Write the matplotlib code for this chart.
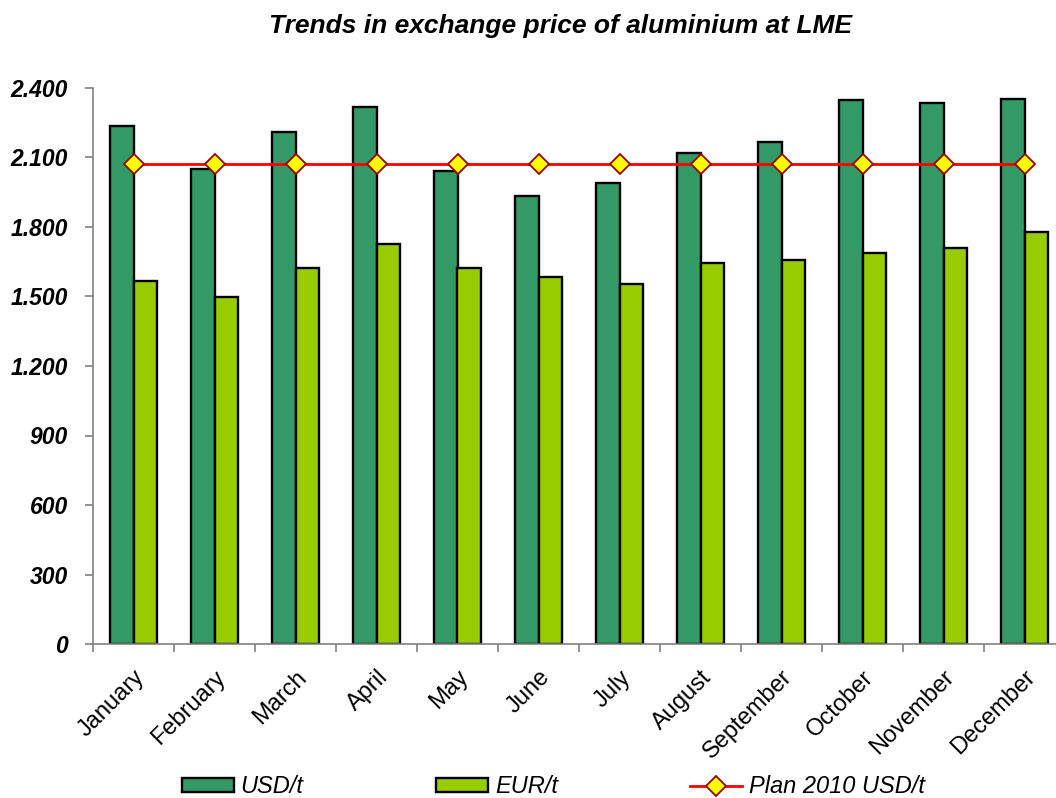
import numpy as np
from matplotlib import pyplot as plt

plt.rcParams['font.family'] = ['Liberation Sans', 'DejaVu Sans']

months = ['January', 'February', 'March', 'April', 'May', 'June', 'July',
          'August', 'September', 'October', 'November', 'December']
usd = [2237, 2051, 2208, 2319, 2041, 1933, 1989, 2120, 2165, 2348, 2335, 2352]
eur = [1566, 1496, 1625, 1728, 1625, 1584, 1555, 1643, 1656, 1689, 1708, 1777]
plan = [2071] * 12
yticks = [0, 300, 600, 900, 1200, 1500, 1800, 2100, 2400]
ytick_labels = ['0', '300', '600', '900', '1.200', '1.500', '1.800', '2.100', '2.400']

fig = plt.figure(figsize=(10.56, 7.98), dpi=100)
ax = fig.add_axes([93 / 1056, 154 / 798, 972 / 1056, 556 / 798])

x = np.arange(len(months))
w = 0.29
b1 = ax.bar(x - w / 2, usd, w, color='#339966', edgecolor='black', linewidth=1.7,
            label='USD/t', zorder=2)
b2 = ax.bar(x + w / 2, eur, w, color='#99CC00', edgecolor='black', linewidth=1.7,
            label='EUR/t', zorder=2)
l1, = ax.plot(x, plan, color='#FF0000', linewidth=2, marker='D', markersize=10,
              markerfacecolor='#FFFF00', markeredgecolor='#990000', markeredgewidth=1.3,
              label='Plan 2010 USD/t', zorder=3)

ax.set_xlim(-0.5, 11.5)
ax.set_ylim(0, 2400)
for s in ['top', 'right']:
    ax.spines[s].set_visible(False)
for s in ['left', 'bottom']:
    ax.spines[s].set_color('#808080')
    ax.spines[s].set_linewidth(1.2)

ax.set_yticks(yticks)
ax.set_yticklabels(ytick_labels, fontsize=16.5, fontweight='bold', fontstyle='italic')
ax.tick_params(axis='y', length=6, width=1.2, color='#808080', pad=12)

ax.set_xticks(x)
ax.set_xticklabels(months, fontsize=17, rotation=45, ha='right',
                   rotation_mode='anchor')
ax.tick_params(axis='x', which='major', length=0, pad=16)
ax.set_xticks(np.arange(-0.5, 12, 1), minor=True)
ax.tick_params(axis='x', which='minor', length=6, width=1.2, color='#808080')

fig.text(0.531, 0.967, 'Trends in exchange price of aluminium at LME',
         ha='center', va='center', fontsize=19, fontweight='bold', fontstyle='italic')

ax.legend([b1, b2, l1], ['USD/t', 'EUR/t', 'Plan 2010 USD/t'],
          loc='center', bbox_to_anchor=(0.524, 0.014), bbox_transform=fig.transFigure,
          ncol=3, frameon=False, handlelength=2.2, handleheight=0.5,
          columnspacing=5.6, handletextpad=0.3,
          prop={'size': 17, 'style': 'italic'})

plt.savefig('out.png', dpi=100)
